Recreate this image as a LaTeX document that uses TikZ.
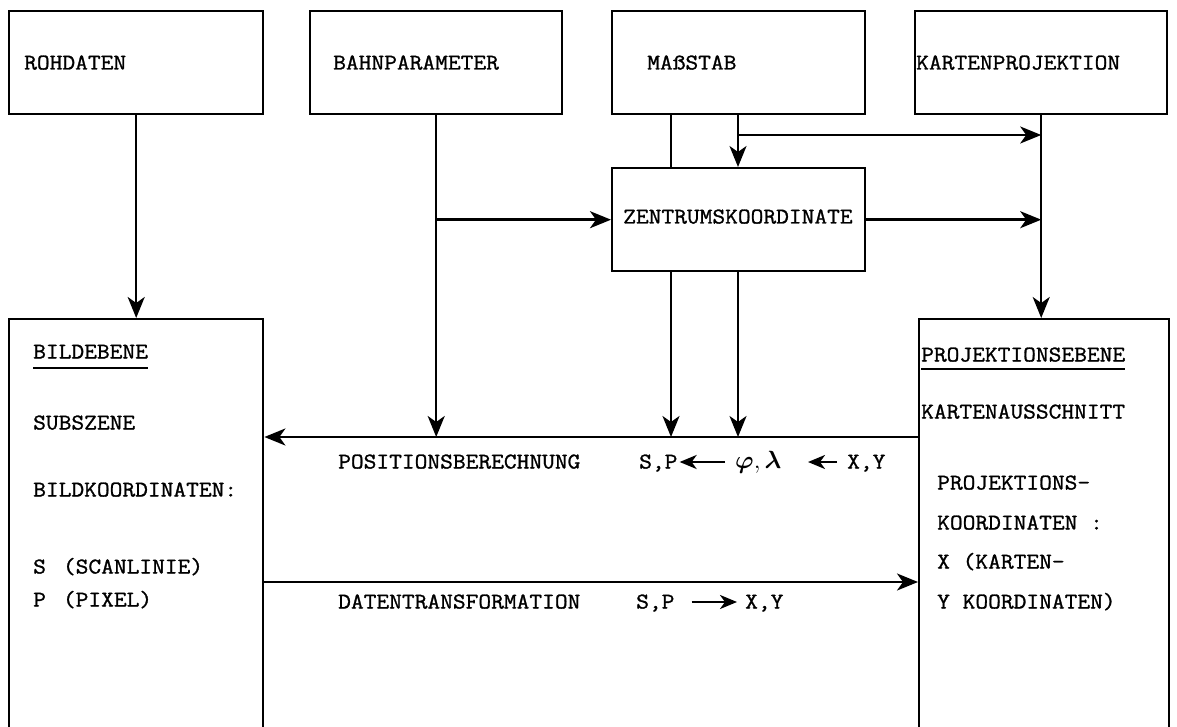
\documentclass[tikz,border=0pt]{standalone}
\usepackage{amsmath}
\usepackage{fontspec}
\newfontfamily\tw{Latin Modern Mono}[FakeStretch=1.1,FakeBold=1.2]
\usetikzlibrary{arrows.meta}
\begin{document}
\begin{tikzpicture}[x=1pt,y=-1pt,
  box/.style={draw, line width=2.4pt, rectangle, inner sep=0pt, anchor=north west},
  txt/.style={anchor=west, inner sep=0pt, text height=13pt, text depth=0pt, font=\fontsize{22.5}{27}\selectfont\tw},
  ln/.style={line width=2.4pt},
  arr/.style={line width=2.4pt, -{Stealth[length=21pt,width=17pt,inset=6pt]}},
  farr/.style={line width=2.4pt, -{Stealth[length=17pt,width=14pt,inset=5pt]}},
  uline/.style={line width=1.6pt}]
\useasboundingbox (0,0) rectangle (1177,727);
\clip (0,0) rectangle (1177,727);
% boxes
\node[box, minimum width=254pt, minimum height=103pt] (roh)  at (8,10) {};
\node[box, minimum width=252pt, minimum height=103pt] (bahn) at (309,10) {};
\node[box, minimum width=253pt, minimum height=103pt] (mass) at (611,10) {};
\node[box, minimum width=252pt, minimum height=103pt] (kart) at (914,10) {};
\node[box, minimum width=253pt, minimum height=103pt] (zent) at (611,167) {};
\node[box, minimum width=254pt, minimum height=440pt] (bild) at (8,318) {};
\node[box, minimum width=250pt, minimum height=440pt] (proj) at (918,318) {};
% box texts
\node[txt] (troh)  at (24,63)  {ROHDATEN};
\node[txt] (tbahn) at (333,63) {BAHNPARAMETER};
\node[txt] (tmass) at (647,63) {MAßSTAB};
\node[txt] (tkart) at (916,63) {KARTENPROJEKTION};
\node[txt] (tzent) at (623,217) {ZENTRUMSKOORDINATE};
\node[txt] (tbild) at (33,352) {BILDEBENE};
\node[txt] (tsub)  at (33,423) {SUBSZENE};
\node[txt] (tbk)   at (33,490) {BILDKOORDINATEN:};
\node[txt] (ts)    at (33,567) {S\hspace{17pt}(SCANLINIE)};
\node[txt] (tp)    at (33,600) {P\hspace{17pt}(PIXEL)};
\node[txt] (tproj) at (921,355) {PROJEKTIONSEBENE};
\node[txt] (tka)   at (921,412) {KARTENAUSSCHNITT};
\node[txt] (tpk)   at (937,483) {PROJEKTIONS-};
\node[txt] (tko)   at (937,523) {KOORDINATEN :};
\node[txt] (tx)    at (937,562) {X (KARTEN-};
\node[txt] (ty)    at (937,602) {Y KOORDINATEN)};
\draw[uline] ([yshift=-9pt]tbild.south west) -- ([yshift=-9pt]tbild.south east);
\draw[uline] ([yshift=-7pt]tproj.south west) -- ([yshift=-7pt]tproj.south east);
% labels along the lines
\node[txt] (tpos) at (338,462) {POSITIONSBERECHNUNG};
\node[txt] (sp1)  at (639,462) {S,P};
\node[anchor=west, inner sep=0pt, font=\fontsize{25}{29}\selectfont] (phi) at (735,462) {$\boldsymbol{\varphi},\boldsymbol{\lambda}$};
\node[txt] (xy1)  at (847,462) {X,Y};
\node[txt] (tdat) at (338,602) {DATENTRANSFORMATION};
\node[txt] (sp2)  at (636,602) {S,P};
\node[txt] (xy2)  at (745,602) {X,Y};
\draw[farr] ([xshift=-10pt]phi.west) -- ([xshift=2pt]sp1.east);
\draw[farr] ([xshift=-10pt]xy1.west) -- ([xshift=-39pt]xy1.west);
\draw[farr] ([xshift=17pt]sp2.east) -- ([xshift=-8pt]xy2.west);
% helper coordinates
\coordinate (ytop) at (0,437);
\coordinate (ybot) at (0,582);
\coordinate (yh)   at (0,135);
\coordinate (m1)   at (671,0);
\coordinate (m2)   at (738,0);
% connectors
\draw[arr] (roh.south) -- (bild.north);
\draw[arr] (bahn.south) -- (bahn.south |- ytop);
\draw[arr] (bahn.south |- zent.west) -- (zent.west);
\draw[ln]  (mass.south -| m1) -- (zent.north -| m1);
\draw[arr] (mass.south -| m2) -- (zent.north -| m2);
\draw[arr] (yh -| m2) -- (yh -| kart.south);
\draw[arr] (zent.east) -- (zent.east -| kart.south);
\draw[arr] (kart.south) -- (proj.north -| kart.south);
\draw[arr] (zent.south -| m1) -- (ytop -| m1);
\draw[arr] (zent.south -| m2) -- (ytop -| m2);
\draw[arr] (proj.west |- ytop) -- (bild.east |- ytop);
\draw[arr] (bild.east |- ybot) -- (proj.west |- ybot);
\end{tikzpicture}
\end{document}
